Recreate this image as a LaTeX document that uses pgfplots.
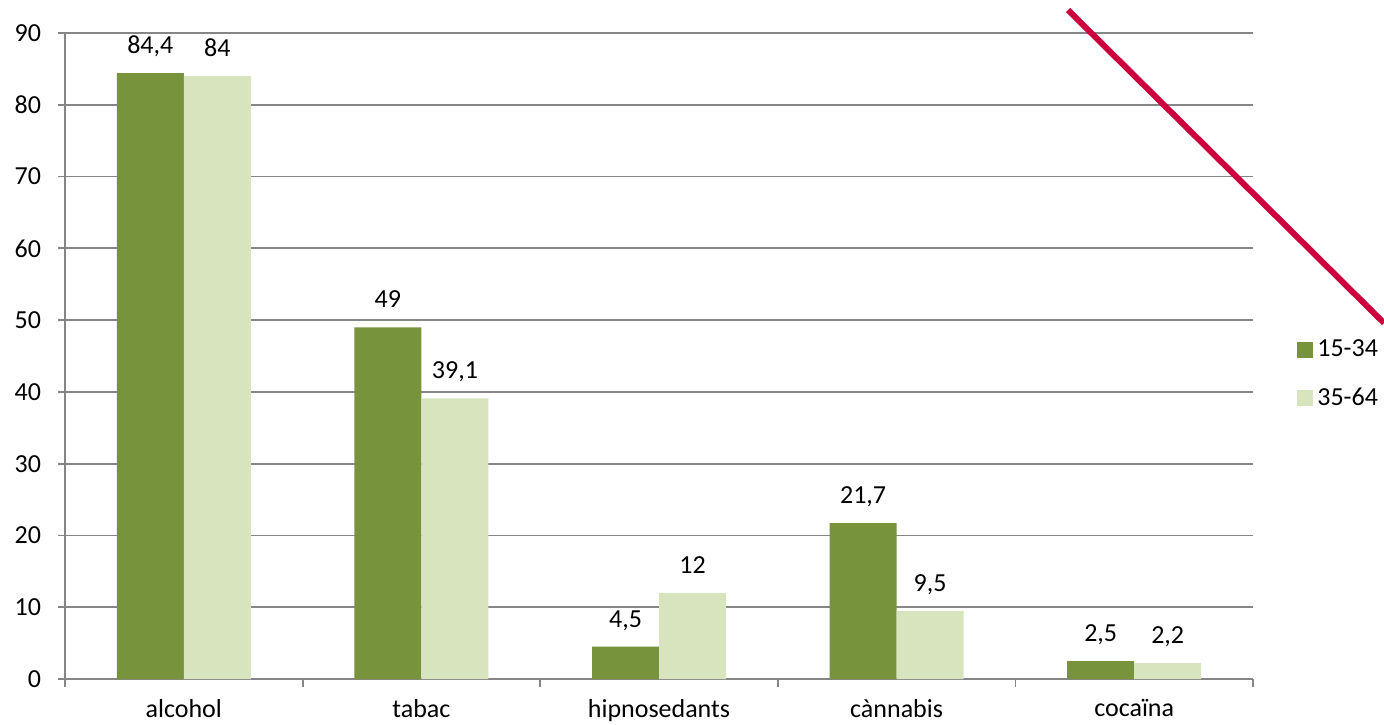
\documentclass[border=0pt]{standalone}
\usepackage{fontspec}
\setmainfont{Carlito}
\usepackage{pgfplots}
\pgfplotsset{compat=1.18}
\definecolor{dark}{RGB}{119,147,60}
\definecolor{light}{RGB}{215,228,189}
\definecolor{gridc}{RGB}{134,134,134}
\definecolor{redl}{RGB}{204,0,60}
\begin{document}
\begin{tikzpicture}[x=1pt,y=1pt]
\useasboundingbox (0,0) rectangle (692,362);
\begin{axis}[
  at={(32.5pt,22.5pt)}, anchor=south west,
  scale only axis, width=594pt, height=323pt,
  ybar=0pt, bar width=33.5pt,
  xmin=-0.5, xmax=4.5, ymin=0, ymax=90,
  ytick={0,10,...,90},
  xtick={0,1,2,3,4},
  xticklabels={alcohol,tabac,hipnosedants,cànnabis,cocaïna},
  minor xtick={-0.5,0.5,1.5,2.5,3.5,4.5},
  major x tick style={draw=none},
  tick align=outside,
  major tick length=3.5pt, minor tick length=4pt,
  axis lines*=left,
  axis line style={gridc, line width=0.9pt},
  every tick/.style={gridc, line width=0.9pt},
  ymajorgrids, grid style={gridc, line width=0.9pt},
  /pgf/number format/assume math mode=true,
  /pgf/number format/use comma,
  tick label style={font=\fontsize{13}{15}\selectfont, black},
  yticklabel style={xshift=-5pt},
  xticklabel style={yshift=-3.2pt},
  nodes near coords,
  every node near coord/.append style={font=\fontsize{13}{15}\selectfont, black, anchor=south, inner sep=0pt, text depth=0pt, yshift=9.5pt},
  legend style={at={(1.037,0.472)}, anchor=west, draw=none, fill=none, font=\fontsize{13}{15}\selectfont, row sep=10pt, inner sep=0pt},
  legend cell align=left,
  legend image code/.code={\fill[#1] (0pt,-4pt) rectangle (8pt,4pt);},
  clip=false,
]
\addplot[fill=dark, draw=none] coordinates {(0,84.4) (1,49) (2,4.5) (3,21.7) (4,2.5)};
\addplot[fill=light, draw=none] coordinates {(0,84) (1,39.1) (2,12) (3,9.5) (4,2.2)};
\legend{15-34,35-64}
\end{axis}
\draw[redl, line width=3pt] (534,357) -- (692,200.5);
\end{tikzpicture}
\end{document}
